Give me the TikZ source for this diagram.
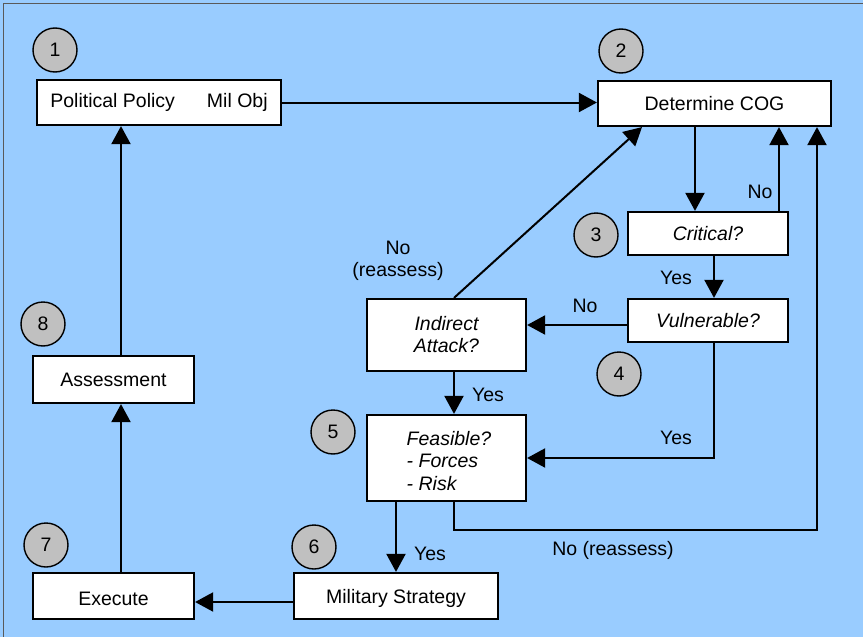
\documentclass[tikz,border=0pt]{standalone}
\usepackage{fontspec}
\setmainfont{Liberation Sans}
\usetikzlibrary{arrows.meta}
\definecolor{bgblue}{RGB}{153,204,255}
\definecolor{badge}{RGB}{192,192,192}
\definecolor{frame}{RGB}{90,90,90}
\tikzset{
  txt/.style={font=\fontsize{19.5}{22}\selectfont},
  box/.style={draw=black, line width=2.2pt, fill=white, inner sep=0pt, txt, align=center},
  badgec/.style={circle, draw=black, line width=1.4pt, fill=badge, minimum size=44pt, inner sep=0pt, txt},
  arr/.style={line width=2pt, -{Triangle[length=18pt,width=19pt]}},
  lbl/.style={txt, inner sep=0pt, align=center}
}
\begin{document}
\begin{tikzpicture}[x=1pt,y=-1pt]
\useasboundingbox (0,0) rectangle (863,637);
\fill[bgblue] (0,0) rectangle (863,637);
\draw[frame, line width=1pt] (3,637) -- (3,3) -- (863,3);

% boxes
\node[box, minimum width=244pt, minimum height=45pt] (pp) at (159,102.5) {Political Policy\hspace{32pt}Mil Obj};
\node[box, minimum width=233pt, minimum height=45pt] (cog) at (714.5,103.5) {Determine COG};
\node[box, minimum width=160pt, minimum height=43pt] (crit) at (708,233.5) {\itshape Critical?};
\node[box, minimum width=160pt, minimum height=43pt] (vul) at (708,320.5) {\itshape Vulnerable?};
\node[box, minimum width=159pt, minimum height=72pt] (ind) at (446.5,335) {\itshape Indirect\\\itshape Attack?};
\node[box, minimum width=159pt, minimum height=86pt] (fea) at (446.5,458) {};
\node[lbl, align=left, font=\fontsize{19.5}{22.5}\selectfont\itshape] (featxt) at (449,461) {Feasible?\\- Forces\\- Risk};
\node[box, minimum width=204pt, minimum height=46pt] (mil) at (396,596) {};
\node[lbl] (miltxt) at (396,598.5) {Military Strategy};
\node[box, minimum width=161pt, minimum height=46pt] (exe) at (113.5,596) {};
\node[lbl] (exetxt) at (113.5,598.5) {Execute};
\node[box, minimum width=161pt, minimum height=47pt] (ass) at (113.5,379.5) {Assessment};

% badges
\node[badgec] (b1) at (55,50) {1};
\node[badgec] (b2) at (621,51) {2};
\node[badgec] (b3) at (596,235) {3};
\node[badgec] (b4) at (619,374) {4};
\node[badgec] (b5) at (333,432) {5};
\node[badgec] (b6) at (314,547) {6};
\node[badgec] (b7) at (46,545) {7};
\node[badgec] (b8) at (43,324) {8};

% helper coordinates
\coordinate (xa) at (695,0);
\coordinate (xb) at (779,0);
\coordinate (xc) at (714,0);
\coordinate (xd) at (454,0);
\coordinate (xf) at (642,0);
\coordinate (xh) at (121,0);
\coordinate (yv) at (0,325);
\coordinate (ym) at (0,602);
\coordinate (corner) at (817,530);

% connectors
\draw[arr] (pp.east) -- (cog.west |- pp.east);
\draw[arr] (cog.south -| xa) -- (crit.north -| xa);
\draw[arr] (crit.north -| xb) -- (cog.south -| xb);
\draw[arr] (crit.south -| xc) -- (vul.north -| xc);
\draw[arr] (vul.west |- yv) -- (ind.east |- yv);
\draw[arr] (vul.south -| xc) |- (fea.east);
\draw[arr] (ind.south -| xd) -- (fea.north -| xd);
\draw[arr] (ind.north -| xd) -- (cog.south -| xf);
\draw[arr] (fea.south -| xd) |- (corner) -- (cog.south -| corner);
\draw[arr] (fea.south -| mil.north) -- (mil.north);
\draw[arr] (mil.west |- ym) -- (exe.east |- ym);
\draw[arr] (exe.north -| xh) -- (ass.south -| xh);
\draw[arr] (ass.north -| xh) -- (pp.south -| xh);

% labels
\node[lbl] (l1) at (760,192) {No};
\node[lbl] (l2) at (676,278) {Yes};
\node[lbl] (l3) at (585,306) {No};
\node[lbl] (l4) at (676,438) {Yes};
\node[lbl] (l5) at (488,395) {Yes};
\node[lbl] (l6) at (398,261) {No\\(reassess)};
\node[lbl] (l7) at (613,550) {No (reassess)};
\node[lbl] (l8) at (430,554) {Yes};
\end{tikzpicture}
\end{document}
